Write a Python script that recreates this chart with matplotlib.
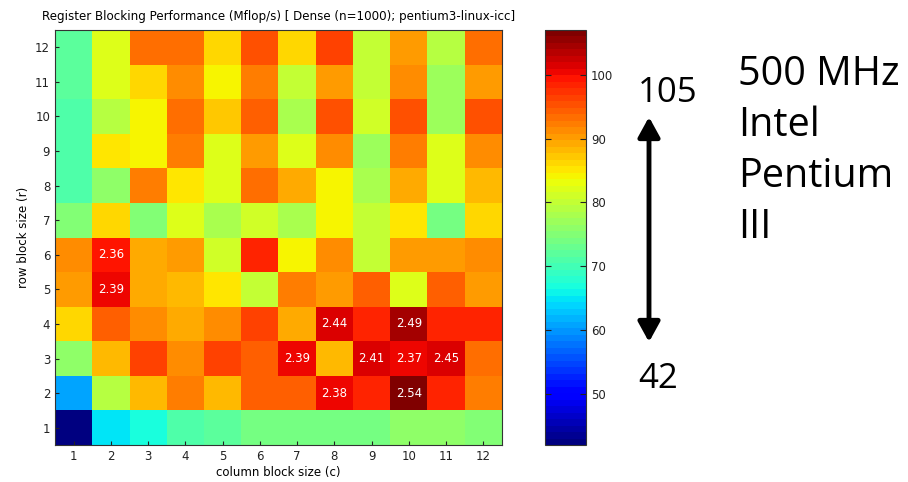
import numpy as np
import matplotlib.pyplot as plt
from matplotlib.patches import FancyArrowPatch

# Mflop/s values, rows r = 1..12 (bottom to top), columns c = 1..12
row_sizes = list(range(1, 13))
col_sizes = list(range(1, 13))

r1 = [42, 64.5, 67, 70.5, 72, 74, 74, 73.5, 73.5, 76.5, 76.5, 75.5]
r2 = [61, 79, 88, 92, 88, 94.5, 94.5, 100, 98, 106, 98, 92]
r3 = [76.5, 88, 96.8, 91, 96.8, 93.8, 100, 88, 101, 100, 101.5, 93.5]
r4 = [86, 94.8, 91, 88.8, 91, 96.8, 88.8, 101.8, 98, 104, 98.5, 98]
r5 = [90.7, 100.8, 88.8, 88, 85, 80, 92, 90.7, 93.8, 82.6, 93.8, 90.7]
r6 = [91, 99, 89, 90, 81, 98, 84.5, 91.7, 80, 90.7, 90, 91.7]
r7 = [74.5, 85.7, 75.5, 82.6, 78.5, 81, 78.5, 84, 80.5, 85, 73.5, 86]
r8 = [71, 76.5, 92, 85, 82.6, 93.5, 89, 84, 78, 89.5, 82.6, 88]
r9 = [70.5, 85, 84, 92, 82.6, 90.7, 82.5, 91, 77.5, 92, 82.6, 91]
r10 = [70.5, 79, 84, 93, 87, 94, 78.5, 95, 81.5, 95, 77, 95]
r11 = [71.5, 82.6, 86, 91, 84, 92, 80.5, 90, 80, 91.7, 77, 90.5]
r12 = [72, 82.5, 92.8, 92.8, 86, 95, 86, 96, 80, 90, 79, 93]

# labelled cells: (row, col, text)
labels = [(6, 2, "2.36"), (5, 2, "2.39"), (4, 8, "2.44"), (4, 10, "2.49"),
          (3, 7, "2.39"), (3, 9, "2.41"), (3, 10, "2.37"), (3, 11, "2.45"),
          (2, 8, "2.38"), (2, 10, "2.54")]

cb_ticks = [50, 60, 70, 80, 90, 100]
side_lines = ["500 MHz", "Intel", "Pentium", "III"]

data = np.array([r1, r2, r3, r4, r5, r6, r7, r8, r9, r10, r11, r12])

fig = plt.figure(figsize=(9.08, 4.82), dpi=100)
W, H = 908, 482

ax = fig.add_axes([55 / W, 1 - 445 / H, (502 - 55) / W, (445 - 30) / H])
cmap = plt.get_cmap('jet', 64)
im = ax.pcolormesh(np.arange(0.5, 13), np.arange(0.5, 13), data,
                   cmap=cmap, vmin=42, vmax=107)
ax.set_xlim(0.5, 12.5)
ax.set_ylim(0.5, 12.5)
ax.set_xticks(col_sizes)
ax.set_yticks(row_sizes)
ax.tick_params(direction='in', length=3, labelsize=8.5, colors='#222222')
for s in ax.spines.values():
    s.set_color('#333333')
    s.set_linewidth(0.8)

for r, c, t in labels:
    ax.text(c, r, t, ha='center', va='center', color='white', fontsize=8.5)

ax.set_title("Register Blocking Performance (Mflop/s) [ Dense (n=1000); pentium3-linux-icc]",
             fontsize=8.6, pad=7)
ax.set_xlabel("column block size (c)", fontsize=8.5, labelpad=2)
ax.set_ylabel("row block size (r)", fontsize=8.5, labelpad=4)

cax = fig.add_axes([545 / W, 1 - 445 / H, (586 - 545) / W, (445 - 30) / H])
cb = fig.colorbar(im, cax=cax, ticks=cb_ticks)
cb.ax.tick_params(direction='in', length=4, labelsize=8.5, left=True, colors='#222222')
cb.outline.set_edgecolor('#333333')

# annotation on the right
fig.text(638 / W, 1 - 102 / H, "105", fontsize=25, ha='left', va='baseline',
         family='Open Sans')
fig.text(638 / W, 1 - 388 / H, "42", fontsize=25, ha='left', va='baseline',
         family='Open Sans')
fig.patches.append(FancyArrowPatch(
    (649 / W, 1 - 117 / H), (649 / W, 1 - 342 / H), transform=fig.transFigure,
    arrowstyle='<|-|>,head_length=0.6,head_width=0.33', mutation_scale=20,
    shrinkA=0, shrinkB=0, linewidth=3.5, color='black'))
for i, line in enumerate(side_lines):
    fig.text(738 / W, 1 - (85 + 51 * i) / H, line, fontsize=28.5,
             ha='left', va='baseline', family='Open Sans')

fig.savefig("out.png", dpi=100)
